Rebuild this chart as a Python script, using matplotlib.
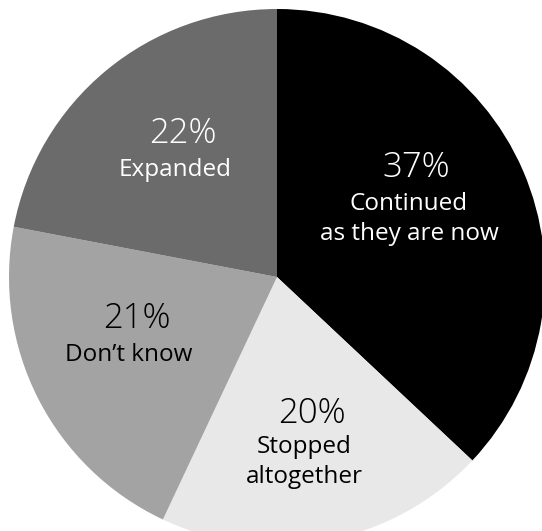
import matplotlib
matplotlib.use("Agg")
import matplotlib.pyplot as plt

# Survey answers, clockwise from the top
categories = ["Continued\nas they are now", "Stopped\naltogether", "Don\u2019t know", "Expanded"]
values = [37, 20, 21, 22]
colors = ["#000000", "#e8e8e8", "#a3a3a3", "#6b6b6b"]
text_colors = ["white", "black", "black", "white"]

W, H = 542, 531
fig = plt.figure(figsize=(W / 100, H / 100), dpi=100)
ax = fig.add_axes([0, 0, 1, 1])

cx, cy, r = 277, H - 277, 268
ax.pie(values, colors=colors, startangle=90, counterclock=False,
       center=(cx, cy), radius=r, wedgeprops=dict(linewidth=0))
ax.set_xlim(0, W)
ax.set_ylim(0, H)
ax.set_aspect("equal")
ax.axis("off")

# label anchors in pixels from top-left: (x percent, baseline percent, x text, first baseline text)
anchors = [(416, 177, 409, 210), (312, 423, 304, 453), (137, 328, 129, 361), (183, 143, 175, 176)]
line_step = 30

font = "Open Sans"
for v, lab, tc, (px, pb, dx, db) in zip(values, categories, text_colors, anchors):
    ax.text(px, H - pb, f"{v}%", ha="center", va="baseline", fontsize=25,
            color=tc, family=font, fontweight="light")
    for i, line in enumerate(lab.split("\n")):
        ax.text(dx, H - (db + i * line_step), line, ha="center", va="baseline",
                fontsize=17.5, color=tc, family=font)

fig.savefig("out.png", dpi=100)
